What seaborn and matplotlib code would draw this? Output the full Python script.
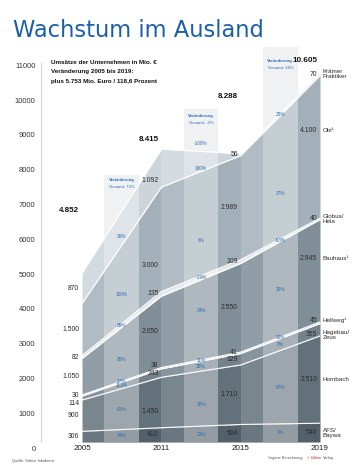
import numpy as np
import pandas as pd
import matplotlib
matplotlib.use('Agg')
import matplotlib.pyplot as plt
import matplotlib.transforms as mtransforms
import seaborn as sns

# Umsätze im Ausland in Mio. € (von unten nach oben gestapelt)
years = ['2005', '2011', '2015', '2019']
firms = ['AFS/\nBaywa', 'Hornbach', 'Hagebau/\nZeus', 'Hellweg¹', 'Bauhaus¹',
         'Globus/\nHela', 'Obi¹', 'Krämer\nPraktiker']
afs = [306, 410, 504, 540]
hornbach = [900, 1450, 1710, 2510]
hagebau = [114, 243, 329, 355]
hellweg = [30, 38, 41, 45]
bauhaus = [1050, 2050, 2550, 2945]
globus = [82, 135, 109, 40]
obi = [1500, 3000, 2989, 4100]
praktiker = [870, 1092, 56, 70]
totals = [4852, 8415, 8288, 10605]

# Veränderungen wie in der Grafik angegeben
chg_05_11 = ['34%', '61%', '113%', '17%', '95%', '65%', '100%', '26%']
chg_11_15 = ['23%', '18%', '35%', '11%', '24%', '-19%', '0%', '100%']
chg_15_19 = ['7%', '47%', '8%', '10%', '15%', '-63%', '37%', '25%']
chg_total = ['73%', '-2%', '28%']

colors = ['#52606a', '#63717b', '#74828c', '#dce2e6', '#808e98',
          '#e4e8eb', '#a3b0b9', '#cdd5db']
blue = '#2a6db5'


def de(v):
    return f'{v:,}'.replace(',', '.')


sns.set_theme(style='white')
plt.rcParams['font.family'] = ['Liberation Sans', 'DejaVu Sans']

fig = plt.figure(figsize=(3.53, 4.65), dpi=100)
ax = fig.add_axes([41 / 353, 23 / 465, 279 / 353, 400 / 465])

layers = np.array([afs, hornbach, hagebau, hellweg, bauhaus, globus, obi, praktiker])
x = np.arange(len(years))
top = layers.cumsum(axis=0)
mid = top - layers / 2

# Layout der Veränderungsspalten
w = 0.28
band_tops = [7670, 9560, 11350]
band_heads = [7530, 9370, 10950]

for i in range(3):
    ax.fill_between([i + w, i + 1 - w], 0, band_tops[i], color='#e6eaed', lw=0, zorder=0)

ax.stackplot(x, layers, colors=colors, lw=0, zorder=1)

for i in range(3):
    ax.axvspan(i, i + w, color='white', alpha=0.15, lw=0, zorder=2)
    ax.fill_between([i + w, i + 1 - w], 0, band_tops[i], color='white', alpha=0.38, lw=0, zorder=2)

# weiße Trennlinien zwischen den Schichten
lines = pd.DataFrame([{'pos': p, 'top': top[k, p], 'firma': k}
                      for k in range(len(firms)) for p in range(len(years))])
sns.lineplot(data=lines, x='pos', y='top', units='firma', estimator=None,
             color='white', lw=0.8, ax=ax, zorder=3)

# Werte an den Jahren
val_nudge = {(1, 7): -8.6, (1, 6): -19, (3, 6): 12, (3, 4): 8.6, (0, 2): -3.6,
             (1, 1): -6.5, (1, 3): 2, (3, 2): -3.6, (3, 3): 1.5}
for p in range(len(years)):
    for k in range(len(firms)):
        ax.annotate(de(layers[k, p]), (p, mid[k, p]), xytext=(-2, val_nudge.get((p, k), 0)),
                    textcoords='offset points', ha='right', va='center',
                    fontsize=4.9, color='#2b2b2b', zorder=5, annotation_clip=False)

for k in range(len(firms)):
    ax.annotate(firms[k], (3, mid[k, 3]), xytext=(2, val_nudge.get((3, k), 0)),
                textcoords='offset points', ha='left', va='center', linespacing=1.0,
                fontsize=4.5, color='#2b2b2b', zorder=5, annotation_clip=False)

# Gesamtsummen
lift = [45, 7, 41, 9]
for p in range(len(years)):
    ax.annotate(de(totals[p]), (p, top[-1, p]), xytext=(-2, lift[p]),
                textcoords='offset points', ha='right', va='center',
                fontsize=5.8, weight='bold', color='#111111', zorder=5)

# Veränderungen in den hellen Spalten
chg = [chg_05_11, chg_11_15, chg_15_19]
pct_nudge = {(0, 7): -6, (0, 6): -7, (0, 4): -4, (1, 6): -12, (1, 4): 6.5,
             (1, 1): -4, (1, 7): -5, (2, 6): -12}
for i in range(3):
    for k in range(len(firms)):
        ax.annotate(chg[i][k], (i + 0.5, (mid[k, i] + mid[k, i + 1]) / 2),
                    xytext=(0, pct_nudge.get((i, k), 0)), textcoords='offset points',
                    ha='center', va='center', fontsize=3.4, color=blue, zorder=5)
    ax.text(i + 0.5, band_heads[i], 'Veränderung', ha='center', va='center',
            fontsize=3.1, weight='bold', color=blue, zorder=5)
    ax.annotate('Gesamt: ' + chg_total[i], (i + 0.5, band_heads[i]), xytext=(0, -4.8),
                textcoords='offset points', ha='center', va='center',
                fontsize=3.1, color=blue, zorder=5)

ax.annotate('-100%', (1.5, (top[-1, 1] + top[-1, 2]) / 2), xytext=(0, 6),
            textcoords='offset points', ha='center', va='center',
            fontsize=3.4, color=blue, zorder=5)

# Achsen
ax.set_xlim(-0.517, 3)
ax.set_ylim(0, 11500)
ax.set_xlabel('')
ax.set_ylabel('')
ax.set_xticks(x, years)
yt = list(range(0, 11001, 1000))
ax.set_yticks(yt, [str(t) for t in yt])
ax.tick_params(axis='x', length=0, pad=2.5, labelsize=5.8, labelcolor='#1a1a1a')
ax.tick_params(axis='y', length=0, pad=4, labelsize=5.4, labelcolor='#333333')
shift = mtransforms.ScaledTranslation(0, -0.06, fig.dpi_scale_trans)
for lab in ax.get_yticklabels():
    lab.set_transform(lab.get_transform() + shift)
sns.despine(ax=ax, bottom=True)
ax.spines['left'].set_color('#d5d9dc')
ax.spines['left'].set_linewidth(0.8)
ax.spines['left'].set_bounds(0, 10900)
ax.grid(False)

# Texte
fig.text(13 / 353, 1 - 37 / 465, 'Wachstum im Ausland', fontsize=16.3,
         color='#1a5fac', family='DejaVu Sans', va='baseline')
sub = ['Umsätze der Unternehmen in Mio. €', 'Veränderung 2005 bis 2019:',
       'plus 5.753 Mio. Euro / 118,6 Prozent']
for j, s in enumerate(sub):
    fig.text(51 / 353, 1 - (62 + 10 * j) / 465, s, fontsize=4.5, weight='bold',
             color='#111111', va='center')

fig.text(12 / 353, 1 - 461 / 465, 'Quelle: Dähne Infodienst', fontsize=2.8,
         color='#555555', va='center')

# Fußzeile rechts, Stück für Stück aneinandergereiht
renderer = fig.canvas.get_renderer()
xpos = 268
for s, c in [('¹eigene Berechnung', '#555555'), ('©', '#555555'),
             ('Dähne', '#d2232a'), ('Verlag', '#555555')]:
    t = fig.text(xpos / 353, 1 - 458 / 465, s, fontsize=2.8, color=c, va='center')
    xpos = t.get_window_extent(renderer).x1 + (4 if s.startswith('¹') else 1.2)

fig.savefig('out.png', dpi=100)
